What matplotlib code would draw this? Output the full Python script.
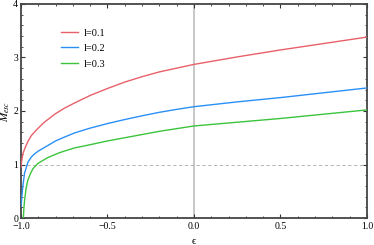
import matplotlib.pyplot as plt
from matplotlib.ticker import MultipleLocator

plt.rcParams['font.family'] = ['Liberation Serif', 'DejaVu Serif']
plt.rcParams['mathtext.fontset'] = 'stix'

# values
labels = ['l=0.1', 'l=0.2', 'l=0.3']
colors = ['#e8606a', '#2a90f5', '#3cc43c']

eps_red = [-1.0, -0.998, -0.993, -0.988, -0.975, -0.96, -0.94, -0.921, -0.90, -0.865, -0.80, -0.75,
           -0.69, -0.60, -0.50, -0.40, -0.30, -0.20, -0.10, 0.0, 0.25, 0.5, 0.75, 1.0]
m_red = [0.95, 1.0, 1.12, 1.21, 1.32, 1.43, 1.54, 1.61, 1.68, 1.79, 1.95, 2.05,
         2.15, 2.29, 2.42, 2.54, 2.64, 2.73, 2.80, 2.87, 3.01, 3.14, 3.26, 3.38]

eps_blue = [-0.999, -0.994, -0.988, -0.979, -0.96, -0.94, -0.921, -0.90, -0.863, -0.80, -0.75,
            -0.69, -0.60, -0.50, -0.40, -0.30, -0.20, -0.10, 0.0, 0.25, 0.5, 0.75, 1.0]
m_blue = [0.22, 0.43, 0.62, 0.84, 1.04, 1.14, 1.20, 1.25, 1.32, 1.44, 1.51,
          1.59, 1.68, 1.765, 1.84, 1.91, 1.975, 2.03, 2.08, 2.17, 2.25, 2.34, 2.43]

eps_green = [-0.986, -0.983, -0.979, -0.97, -0.96, -0.945, -0.931, -0.902, -0.871, -0.844, -0.786, -0.75,
             -0.69, -0.60, -0.50, -0.40, -0.30, -0.20, -0.10, 0.0, 0.25, 0.5, 0.75, 1.0]
m_green = [0.0, 0.18, 0.33, 0.56, 0.71, 0.83, 0.92, 1.02, 1.08, 1.13, 1.21, 1.25,
           1.31, 1.37, 1.44, 1.50, 1.56, 1.62, 1.67, 1.72, 1.79, 1.86, 1.94, 2.02]

fig = plt.figure(figsize=(3.74, 2.45), dpi=100)
ax = fig.add_axes([0.056, 0.110, 0.925, 0.874])

ax.axvline(0, color='#c8c8c8', linewidth=1.4, zorder=1)
ax.axhline(1, color='#aaaaaa', linewidth=0.6, linestyle=(0, (4, 3)), zorder=1)

for xs, ys, lab, col in zip([eps_red, eps_blue, eps_green], [m_red, m_blue, m_green], labels, colors):
    ax.plot(xs, ys, color=col, linewidth=1.0, label=lab, zorder=3)

ax.set_xlim(-1, 1)
ax.set_ylim(0, 4)
ax.xaxis.set_minor_locator(MultipleLocator(0.1))
ax.yaxis.set_minor_locator(MultipleLocator(0.2))
ax.set_yticks([0, 1, 2, 3, 4])
ax.set_yticklabels(['0', '1', '2', '3', '4'])
ax.set_xticks([-1, -0.5, 0, 0.5, 1])
ax.set_xticklabels(['\u22121.0', '\u22120.5', '0.0', '0.5', '1.0'])

ax.tick_params(which='both', direction='in', top=True, right=True, labelsize=7, color='#333333')
ax.tick_params(axis='x', pad=3)
ax.tick_params(axis='y', pad=2)
ax.tick_params(which='major', length=3, width=0.8)
ax.tick_params(which='minor', length=1.5, width=0.6)
for s in ax.spines.values():
    s.set_linewidth(1.3)
    s.set_color('#444444')

ax.set_xlabel('\u03f5', fontsize=8, labelpad=4)
ax.set_ylabel(r'$M_{esc}$', fontsize=8, labelpad=1)

ax.legend(loc='upper left', bbox_to_anchor=(0.09, 0.93), frameon=False, fontsize=7.5,
          handlelength=1.6, handletextpad=0.5, labelspacing=0.6)

fig.savefig('out.png', dpi=100)
